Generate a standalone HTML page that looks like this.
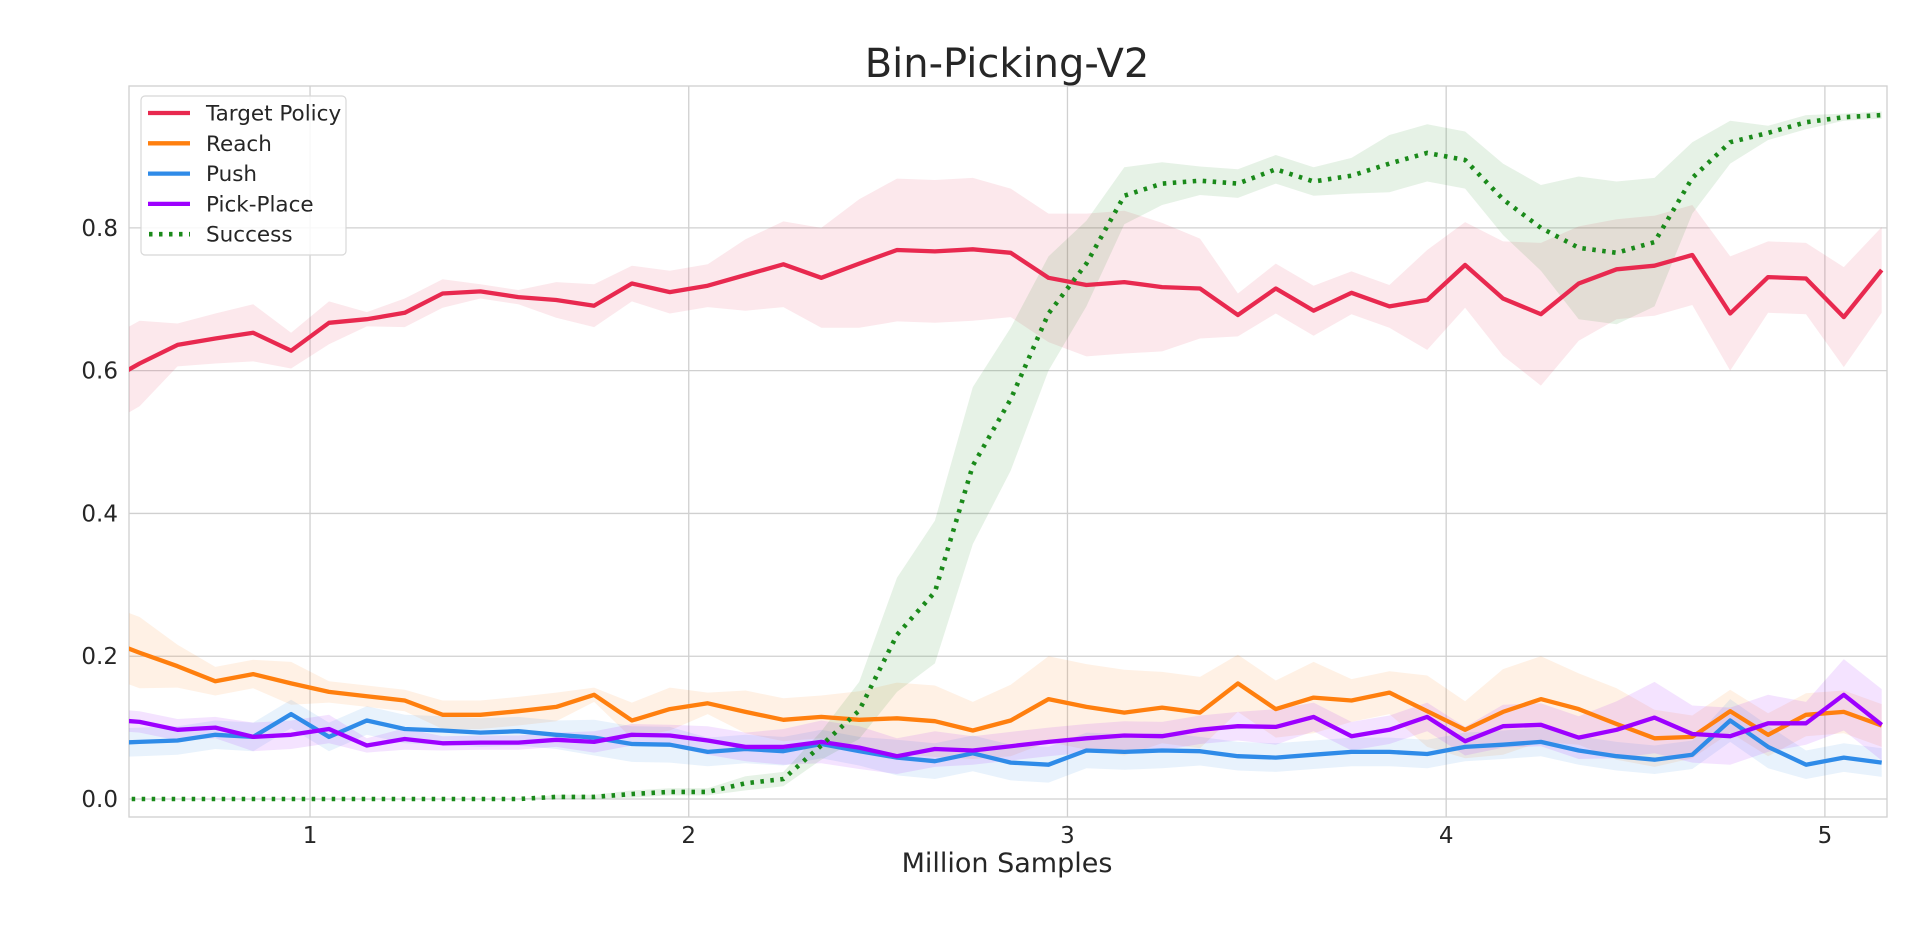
<!DOCTYPE html>
<html><head><meta charset="utf-8"><style>
html,body{margin:0;padding:0;background:#fff;}
svg{display:block;font-family:"DejaVu Sans","Liberation Sans",sans-serif;}
</style></head><body>
<svg id="chart" width="1920" height="936">
<defs><clipPath id="clip"><rect x="129" y="86" width="1758" height="731"/></clipPath></defs>
<rect x="129" y="86" width="1758" height="731" fill="#fff" stroke="#d0d0d0" stroke-width="1.3"/>
<g id="grid"></g>
<g id="bands" clip-path="url(#clip)"></g>
<g id="lines" clip-path="url(#clip)"></g>
<g id="ticks"></g>
<text x="1007" y="77" font-size="40" text-anchor="middle" fill="#262626">Bin-Picking-V2</text>
<text x="1007" y="872" font-size="27" text-anchor="middle" fill="#262626">Million Samples</text>
<g id="legend"></g>
</svg>
<script>
const xStart = 0.45, xStep = 0.1;
const xTicks = [1,2,3,4,5];
const yTicks = [0,0.2,0.4,0.6,0.8];
const yTickLabels = ["0.0","0.2","0.4","0.6","0.8"];
const seriesNames = ["Target Policy","Reach","Push","Pick-Place","Success"];
const target = [0.58,0.61,0.636,0.645,0.653,0.628,0.667,0.672,0.681,0.708,0.711,0.703,0.699,0.691,0.722,0.71,0.719,0.734,0.749,0.73,0.75,0.769,0.767,0.77,0.765,0.73,0.72,0.724,0.717,0.715,0.678,0.715,0.684,0.709,0.69,0.699,0.748,0.701,0.679,0.722,0.742,0.747,0.762,0.68,0.731,0.729,0.675,0.741];
const targetSpread = [0.06,0.06,0.03,0.035,0.04,0.025,0.03,0.01,0.02,0.02,0.01,0.01,0.025,0.03,0.025,0.03,0.03,0.05,0.06,0.07,0.09,0.1,0.1,0.1,0.09,0.09,0.1,0.1,0.09,0.07,0.03,0.035,0.035,0.03,0.03,0.07,0.06,0.08,0.1,0.08,0.07,0.07,0.07,0.08,0.05,0.05,0.07,0.06];
const reach = [0.225,0.205,0.186,0.165,0.175,0.162,0.15,0.144,0.138,0.118,0.118,0.123,0.129,0.146,0.11,0.126,0.134,0.122,0.111,0.115,0.111,0.113,0.109,0.096,0.11,0.14,0.129,0.121,0.128,0.121,0.162,0.126,0.142,0.138,0.149,0.123,0.097,0.122,0.14,0.126,0.105,0.085,0.087,0.123,0.09,0.118,0.122,0.103];
const reachSpread = [0.05,0.05,0.03,0.02,0.02,0.03,0.015,0.015,0.015,0.02,0.02,0.02,0.02,0.01,0.025,0.03,0.015,0.03,0.03,0.03,0.04,0.05,0.05,0.04,0.05,0.06,0.06,0.06,0.05,0.05,0.04,0.04,0.05,0.03,0.03,0.05,0.04,0.06,0.06,0.05,0.05,0.04,0.03,0.03,0.03,0.03,0.03,0.03];
const push = [0.078,0.08,0.082,0.09,0.087,0.119,0.087,0.11,0.098,0.096,0.093,0.095,0.09,0.086,0.077,0.076,0.066,0.07,0.067,0.077,0.067,0.058,0.053,0.064,0.051,0.048,0.068,0.066,0.068,0.067,0.06,0.058,0.062,0.066,0.066,0.063,0.073,0.076,0.08,0.068,0.06,0.055,0.062,0.11,0.073,0.048,0.058,0.051];
const pushSpread = [0.02,0.02,0.02,0.02,0.02,0.02,0.02,0.02,0.02,0.02,0.02,0.02,0.02,0.025,0.025,0.025,0.02,0.02,0.02,0.02,0.02,0.025,0.025,0.025,0.025,0.025,0.025,0.025,0.025,0.02,0.02,0.02,0.02,0.02,0.02,0.02,0.02,0.02,0.02,0.02,0.02,0.02,0.02,0.03,0.03,0.02,0.02,0.02];
const pickPlace = [0.112,0.108,0.097,0.1,0.087,0.09,0.098,0.075,0.084,0.078,0.079,0.079,0.083,0.08,0.09,0.089,0.082,0.073,0.073,0.08,0.072,0.06,0.07,0.068,0.074,0.08,0.085,0.089,0.088,0.097,0.102,0.101,0.115,0.088,0.097,0.115,0.081,0.102,0.104,0.086,0.097,0.114,0.091,0.088,0.106,0.106,0.146,0.104];
const pickPlaceSpread = [0.015,0.015,0.015,0.015,0.02,0.02,0.02,0.01,0.015,0.01,0.01,0.01,0.01,0.015,0.015,0.015,0.02,0.02,0.025,0.03,0.03,0.025,0.025,0.02,0.02,0.02,0.02,0.02,0.02,0.02,0.02,0.025,0.02,0.02,0.02,0.02,0.02,0.03,0.03,0.03,0.04,0.05,0.04,0.04,0.04,0.03,0.05,0.05];
const success = [0,0,0,0,0,0,0,0,0,0,0,0,0.003,0.003,0.007,0.01,0.01,0.022,0.028,0.075,0.124,0.23,0.29,0.467,0.56,0.68,0.75,0.845,0.862,0.866,0.862,0.882,0.865,0.873,0.89,0.905,0.895,0.84,0.8,0.772,0.765,0.78,0.87,0.92,0.933,0.948,0.955,0.958];
const successSpread = [0,0,0,0,0,0,0,0,0,0,0,0,0.003,0.003,0.005,0.005,0.005,0.01,0.01,0.02,0.04,0.08,0.1,0.11,0.1,0.08,0.06,0.04,0.03,0.02,0.02,0.02,0.02,0.025,0.04,0.04,0.04,0.05,0.06,0.1,0.1,0.09,0.05,0.03,0.01,0.01,0.005,0.005];

const X0=129,X1=1887,Y0=817,Y1=86;
const xv0=0.522, xv1=5.164, yv0=-0.0252, yv1=0.9987;
function xs(v){return X0+(v-xv0)/(xv1-xv0)*(X1-X0);}
function ys(v){return Y0-(v-yv0)/(yv1-yv0)*(Y0-Y1);}
const NS="http://www.w3.org/2000/svg";
function mk(tag,attrs,parent){const e=document.createElementNS(NS,tag);for(const k in attrs)e.setAttribute(k,attrs[k]);parent.appendChild(e);return e;}
const grid=document.getElementById('grid'),ticks=document.getElementById('ticks');
xTicks.forEach(t=>{
  const l=mk('line',{x1:xs(t),x2:xs(t),y1:Y1,y2:Y0,stroke:'#d0d0d0','stroke-width':1.3},grid);
  
  
  const tx=mk('text',{x:xs(t),y:Y0+26,'font-size':23,'text-anchor':'middle',fill:'#262626'},ticks);
  tx.textContent=String(t);
  
  
});
yTicks.forEach((t,i)=>{
  const l=mk('line',{x1:X0,x2:X1,y1:ys(t),y2:ys(t),stroke:'#d0d0d0','stroke-width':1.3},grid);
  
  
  const tx=mk('text',{x:X0-11,y:ys(t)+8,'font-size':23,'text-anchor':'end',fill:'#262626'},ticks);
  tx.textContent=yTickLabels[i];
  
  
});
const series=[
 {v:target,s:targetSpread,c:'#e8294f',dash:null,name:'target-policy'},
 {v:reach,s:reachSpread,c:'#ff7f0e',dash:null,name:'reach'},
 {v:push,s:pushSpread,c:'#2f8be8',dash:null,name:'push'},
 {v:pickPlace,s:pickPlaceSpread,c:'#9d00ff',dash:null,name:'pick-place'},
 {v:success,s:successSpread,c:'#1a8a1a',dash:'3.5,6.5',name:'success'}
];
const bands=document.getElementById('bands'),lines=document.getElementById('lines');
series.forEach(sr=>{
  const xsV=sr.v.map((_,i)=>xs(xStart+i*xStep));
  let up=sr.v.map((v,i)=>xsV[i].toFixed(1)+','+ys(v+sr.s[i]).toFixed(1));
  let dn=sr.v.map((v,i)=>xsV[i].toFixed(1)+','+ys(v-sr.s[i]).toFixed(1)).reverse();
  const b=mk('polygon',{points:up.concat(dn).join(' '),fill:sr.c,'fill-opacity':0.11,stroke:'none'},bands);
  
  
  const pts=sr.v.map((v,i)=>xsV[i].toFixed(1)+','+ys(v).toFixed(1)).join(' ');
  const a={points:pts,fill:'none',stroke:sr.c,'stroke-width':sr.dash?4.6:4.3,'stroke-linejoin':'round'};
  if(sr.dash){a['stroke-dasharray']=sr.dash;}
  const l=mk('polyline',a,lines);
  
  
});
const lg=document.getElementById('legend');
const box=mk('rect',{x:141,y:96,width:205,height:159,rx:4,fill:'#fff','fill-opacity':0.85,stroke:'#d8d8d8','stroke-width':1.2},lg);


series.forEach((sr,i)=>{
  const y=113+i*30.3;
  const a={x1:148,x2:190,y1:y,y2:y,stroke:sr.c,'stroke-width':sr.dash?4.6:4.3};
  if(sr.dash){a['stroke-dasharray']=sr.dash;a.x1=149;}
  const l=mk('line',a,lg);
  
  
  const t=mk('text',{x:206,y:y+7.5,'font-size':21.5,fill:'#262626'},lg);
  t.textContent=seriesNames[i];
  
  
});
</script>
</body></html>
